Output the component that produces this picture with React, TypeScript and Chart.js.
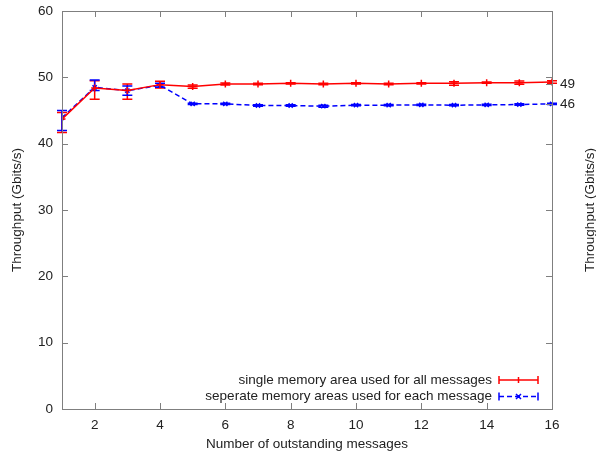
import React, { useEffect, useRef } from "react";
import { Chart, registerables } from "chart.js";

Chart.register(...registerables);

const xValues = [1, 2, 3, 4, 5, 6, 7, 8, 9, 10, 11, 12, 13, 14, 15, 16];
const xTicks = [2, 4, 6, 8, 10, 12, 14, 16];
const yTicks = [0, 10, 20, 30, 40, 50, 60];
const rightTicks = [46, 49];

const seriesLabels = [
  "single memory area used for all messages",
  "seperate memory areas used for each message",
];

const singleArea = [43.7, 48.4, 48.0, 48.9, 48.6, 49.0, 49.0, 49.1, 49.0, 49.1, 49.0, 49.1, 49.1, 49.2, 49.2, 49.3];
const singleLow = [41.7, 46.7, 46.7, 48.4, 48.35, 48.85, 48.9, 49.0, 48.9, 49.0, 48.9, 49.0, 48.8, 49.1, 48.95, 49.1];
const singleHigh = [44.7, 49.5, 49.0, 49.4, 48.85, 49.15, 49.1, 49.2, 49.1, 49.2, 49.1, 49.2, 49.35, 49.3, 49.45, 49.5];

const separateAreas = [43.9, 48.5, 48.0, 48.8, 46.0, 46.0, 45.75, 45.75, 45.65, 45.8, 45.8, 45.85, 45.8, 45.85, 45.9, 46.0];
const separateLow = [42.0, 48.0, 47.3, 48.5, 45.9, 45.9, 45.65, 45.65, 45.5, 45.7, 45.7, 45.75, 45.7, 45.75, 45.8, 45.9];
const separateHigh = [45.0, 49.6, 48.7, 49.1, 46.1, 46.1, 45.85, 45.85, 45.8, 45.9, 45.9, 45.95, 45.9, 45.95, 46.0, 46.1];

const FONT = "'Liberation Sans', Arial, sans-serif";
const FONT_SIZE = 13.5;
const TEXT = "#222";
const BORDER = "#7f7f7f";

const errLows = [singleLow, separateLow];
const errHighs = [singleHigh, separateHigh];
const colors = ["#ff0000", "#0000ff"];
const dashes = [[], [5, 3]];

const decorPlugin = {
  id: "decor",
  beforeDatasetsDraw(chart: any) {
    const ctx = chart.ctx;
    const xs = chart.scales.x;
    const ys = chart.scales.y;
    ctx.save();
    chart.data.datasets.forEach((ds: any, di: number) => {
      ctx.strokeStyle = colors[di];
      ctx.lineWidth = 1.5;
      ctx.setLineDash([]);
      xValues.forEach((xv, i) => {
        const px = xs.getPixelForValue(xv);
        const lo = ys.getPixelForValue(errLows[di][i]);
        const hi = ys.getPixelForValue(errHighs[di][i]);
        ctx.beginPath();
        ctx.moveTo(px, lo);
        ctx.lineTo(px, hi);
        ctx.moveTo(px - 5, lo);
        ctx.lineTo(px + 5, lo);
        ctx.moveTo(px - 5, hi);
        ctx.lineTo(px + 5, hi);
        ctx.stroke();
      });
    });
    ctx.restore();
  },
  afterDraw(chart: any) {
    const ctx = chart.ctx;
    const a = chart.chartArea;
    const xs = chart.scales.x;
    const ys = chart.scales.y;
    ctx.save();
    ctx.strokeStyle = BORDER;
    ctx.lineWidth = 1;
    ctx.setLineDash([]);
    ctx.strokeRect(Math.round(a.left) + 0.5, Math.round(a.top) + 0.5, Math.round(a.right - a.left), Math.round(a.bottom - a.top));
    const tl = 6;
    ctx.beginPath();
    xTicks.forEach((t) => {
      const px = Math.round(xs.getPixelForValue(t)) + 0.5;
      ctx.moveTo(px, a.bottom);
      ctx.lineTo(px, a.bottom - tl);
      ctx.moveTo(px, a.top);
      ctx.lineTo(px, a.top + tl);
    });
    yTicks.forEach((t) => {
      const py = Math.round(ys.getPixelForValue(t)) + 0.5;
      ctx.moveTo(a.left, py);
      ctx.lineTo(a.left + tl, py);
      ctx.moveTo(a.right, py);
      ctx.lineTo(a.right - tl, py);
    });
    rightTicks.forEach((t) => {
      const py = Math.round(ys.getPixelForValue(t)) + 0.5;
      ctx.moveTo(a.right, py);
      ctx.lineTo(a.right - tl, py);
    });
    ctx.stroke();

    // axis titles
    ctx.fillStyle = TEXT;
    ctx.font = `${FONT_SIZE}px ${FONT}`;
    ctx.textAlign = "center";
    ctx.textBaseline = "middle";
    const midY = (a.top + a.bottom) / 2;
    ctx.save();
    ctx.translate(17, midY);
    ctx.rotate(-Math.PI / 2);
    ctx.fillText("Throughput (Gbits/s)", 0, 0);
    ctx.restore();
    ctx.save();
    ctx.translate(590, midY);
    ctx.rotate(-Math.PI / 2);
    ctx.fillText("Throughput (Gbits/s)", 0, 0);
    ctx.restore();
    ctx.fillText("Number of outstanding messages", (a.left + a.right) / 2, 444);

    // legend
    const textRight = 492;
    const sx0 = 499;
    const sx1 = 538;
    const rows = [380, 396.5];
    rows.forEach((ry, di) => {
      ctx.fillStyle = TEXT;
      ctx.textAlign = "right";
      ctx.textBaseline = "middle";
      ctx.fillText(seriesLabels[di], textRight, ry);
      ctx.strokeStyle = colors[di];
      ctx.lineWidth = 1.5;
      ctx.setLineDash(dashes[di]);
      ctx.beginPath();
      ctx.moveTo(sx0, ry);
      ctx.lineTo(sx1, ry);
      ctx.stroke();
      ctx.setLineDash([]);
      ctx.beginPath();
      ctx.moveTo(sx0, ry - 4);
      ctx.lineTo(sx0, ry + 4);
      ctx.moveTo(sx1, ry - 4);
      ctx.lineTo(sx1, ry + 4);
      const mx = (sx0 + sx1) / 2;
      if (di === 0) {
        ctx.moveTo(mx, ry - 3);
        ctx.lineTo(mx, ry + 3);
      } else {
        ctx.moveTo(mx - 2.5, ry - 2.5);
        ctx.lineTo(mx + 2.5, ry + 2.5);
        ctx.moveTo(mx - 2.5, ry + 2.5);
        ctx.lineTo(mx + 2.5, ry - 2.5);
      }
      ctx.stroke();
    });
    ctx.restore();
  },
};

export default function App() {
  const ref = useRef<HTMLCanvasElement | null>(null);
  useEffect(() => {
    if (!ref.current) return;
    const chart = new Chart(ref.current, {
      type: "line",
      data: {
        datasets: [
          {
            label: seriesLabels[0],
            data: xValues.map((x, i) => ({ x, y: singleArea[i] })),
            borderColor: colors[0],
            backgroundColor: colors[0],
            borderWidth: 1.5,
            pointStyle: "cross",
            pointRadius: 3.5,
            pointBorderWidth: 1.5,
            tension: 0,
          },
          {
            label: seriesLabels[1],
            data: xValues.map((x, i) => ({ x, y: separateAreas[i] })),
            borderColor: colors[1],
            backgroundColor: colors[1],
            borderWidth: 1.5,
            borderDash: [5, 3],
            pointStyle: "crossRot",
            pointRadius: 3,
            pointBorderWidth: 1.5,
            tension: 0,
          },
        ],
      },
      options: {
        animation: false,
        responsive: false,
        maintainAspectRatio: false,
        layout: { padding: { top: 11, left: 0, right: 0, bottom: 0 } },
        plugins: { legend: { display: false }, tooltip: { enabled: false } },
        scales: {
          x: {
            type: "linear",
            min: 1,
            max: 16,
            grid: { display: false, drawTicks: false },
            border: { display: false },
            afterBuildTicks: (s: any) => {
              s.ticks = xTicks.map((v) => ({ value: v }));
            },
            afterFit: (s: any) => {
              s.height = 47;
              s.paddingLeft = 0;
              s.paddingRight = 0;
            },
            ticks: {
              padding: 8,
              color: TEXT,
              font: { family: FONT, size: FONT_SIZE },
              maxRotation: 0,
            },
          },
          y: {
            type: "linear",
            position: "left",
            min: 0,
            max: 60,
            grid: { display: false, drawTicks: false },
            border: { display: false },
            afterBuildTicks: (s: any) => {
              s.ticks = yTicks.map((v) => ({ value: v }));
            },
            afterFit: (s: any) => {
              s.width = 62;
              s.paddingTop = 0;
              s.paddingBottom = 0;
            },
            ticks: {
              padding: 9,
              color: TEXT,
              font: { family: FONT, size: FONT_SIZE },
            },
          },
          y2: {
            type: "linear",
            position: "right",
            min: 0,
            max: 60,
            grid: { display: false, drawTicks: false },
            border: { display: false },
            afterBuildTicks: (s: any) => {
              s.ticks = rightTicks.map((v) => ({ value: v }));
            },
            afterFit: (s: any) => {
              s.width = 44;
              s.paddingTop = 0;
              s.paddingBottom = 0;
            },
            ticks: {
              padding: 8,
              color: TEXT,
              font: { family: FONT, size: FONT_SIZE },
              callback: (v: any) => String(v),
            },
          },
        },
      },
      plugins: [decorPlugin],
    } as any);
    return () => chart.destroy();
  }, []);
  return (
    <div style={{ position: "absolute", left: 0, top: 0, width: 596, height: 456, background: "#fff" }}>
      <canvas ref={ref} width={596} height={456} style={{ display: "block" }} />
    </div>
  );
}
